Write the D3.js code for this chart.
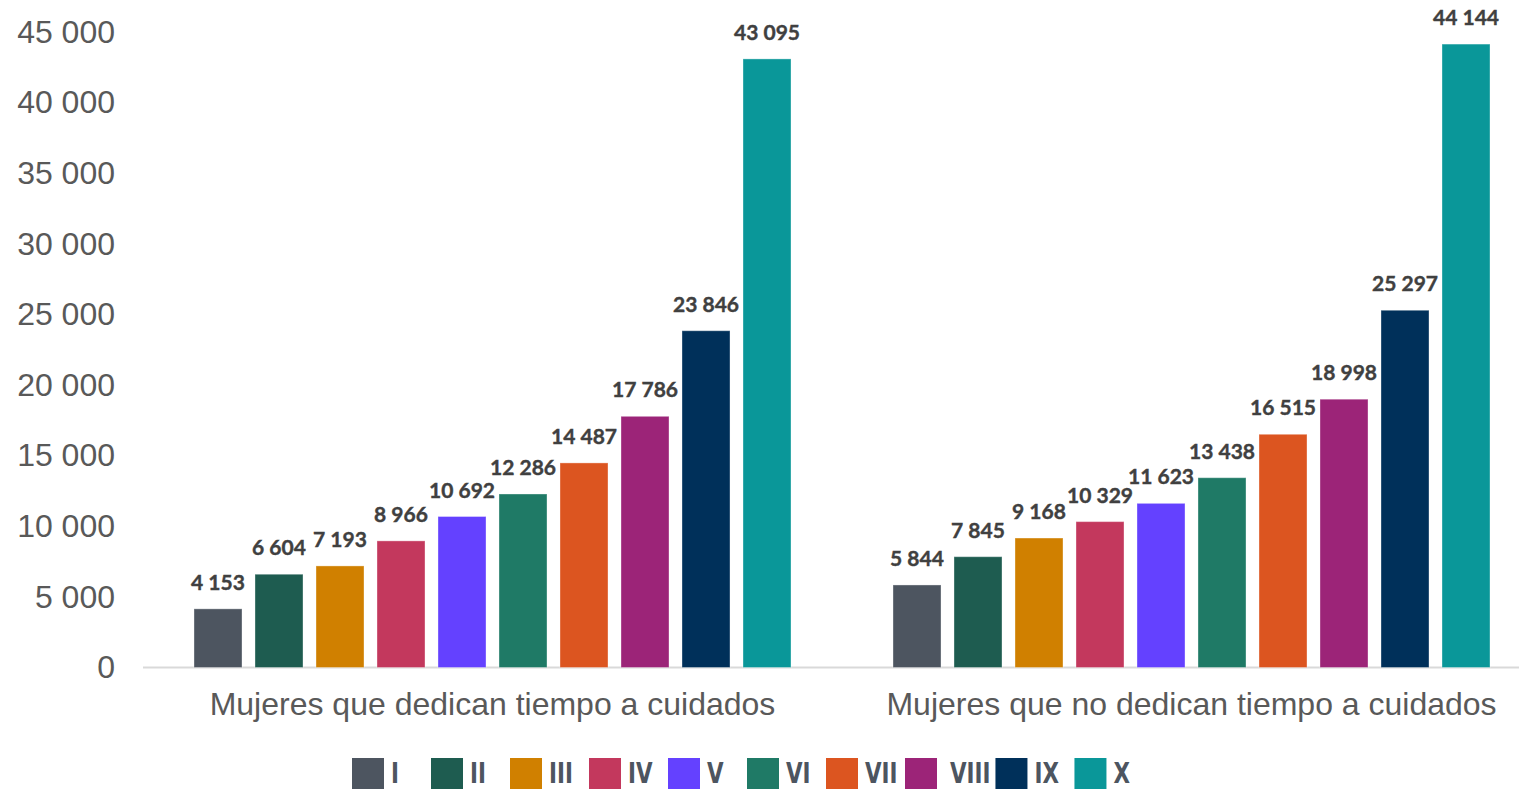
<!DOCTYPE html>
<html>
<head>
<meta charset="utf-8">
<script src="https://cdn.jsdelivr.net/npm/d3@7"></script>
<style>
  body { margin: 0; background: #fff; }
  svg { display: block; }
</style>
</head>
<body>
<div id="chart"></div>
<script>
// data
const groups = ['Mujeres que dedican tiempo a cuidados', 'Mujeres que no dedican tiempo a cuidados']
const deciles = ['I', 'II', 'III', 'IV', 'V', 'VI', 'VII', 'VIII', 'IX', 'X']
const conCuidados = [4153, 6604, 7193, 8966, 10692, 12286, 14487, 17786, 23846, 43095]
const sinCuidados = [5844, 7845, 9168, 10329, 11623, 13438, 16515, 18998, 25297, 44144]
const colors = ['#4d5560', '#1e5c50', '#d08000', '#c3385d', '#6441ff', '#1f7a66', '#dc5520', '#9c2478', '#00305a', '#0a9799']
const yTicks = [0, 5000, 10000, 15000, 20000, 25000, 30000, 35000, 40000, 45000]

const width = 1519,
  height = 789,
  plotLeft = 143,
  plotTop = 32,
  plotBottom = 667.5

const fmt = v => d3.format(',')(v).replace(/,/g, ' ')

let svg = d3.select('#chart')
  .append('svg')
  .attr('width', width)
  .attr('height', height)

let y = d3.scaleLinear()
  .domain([0, 45000])
  .range([plotBottom, plotTop])

let x0 = d3.scaleBand()
  .domain(groups)
  .range([plotLeft, plotLeft + 1398])

let x1 = d3.scaleBand()
  .domain(deciles)
  .range([0, x0.bandwidth()])
  .paddingInner(0.213)
  .paddingOuter(0.836)

let color = d3.scaleOrdinal().domain(deciles).range(colors)

// y axis labels
let yAxis = svg.append('g')
  .attr('transform', `translate(${plotLeft - 28},0)`)
  .call(d3.axisLeft(y).tickValues(yTicks).tickFormat(fmt).tickSize(0).tickPadding(0))
yAxis.select('.domain').remove()
yAxis.selectAll('text')
  .attr('font-family', 'Liberation Sans, Arial, sans-serif')
  .attr('font-size', 32)
  .attr('fill', '#595959')

// baseline
svg.append('line')
  .attr('x1', plotLeft)
  .attr('x2', width)
  .attr('y1', y(0))
  .attr('y2', y(0))
  .attr('stroke', '#d9d9d9')
  .attr('stroke-width', 2)

let series = [conCuidados, sinCuidados]
let rows = []
groups.forEach((g, gi) => {
  deciles.forEach((d, di) => {
    rows.push({ group: g, decile: d, value: series[gi][di] })
  })
})

svg.selectAll('rect.bar')
  .data(rows)
  .enter()
  .append('rect')
  .attr('class', 'bar')
  .attr('x', d => x0(d.group) + x1(d.decile))
  .attr('y', d => y(d.value))
  .attr('width', x1.bandwidth())
  .attr('height', d => y(0) - y(d.value))
  .attr('fill', d => color(d.decile))
  .attr('stroke', '#fff')
  .attr('stroke-opacity', 0.35)
  .attr('stroke-width', 1)

svg.selectAll('text.val')
  .data(rows)
  .enter()
  .append('text')
  .attr('class', 'val')
  .attr('x', d => x0(d.group) + x1(d.decile) + x1.bandwidth() / 2)
  .attr('y', d => y(d.value) - 19)
  .attr('text-anchor', 'middle')
  .attr('font-family', 'Lato, Carlito, sans-serif')
  .attr('font-weight', 700)
  .attr('font-size', 21)
  .attr('fill', '#404040')
  .attr('stroke', '#404040')
  .attr('stroke-width', 0.4)
  .text(d => fmt(d.value))

// category labels
let xAxis = svg.append('g')
  .attr('transform', `translate(0,${y(0)})`)
  .call(d3.axisBottom(x0).tickSize(0).tickPadding(0))
xAxis.select('.domain').remove()
xAxis.selectAll('text')
  .attr('dy', null)
  .attr('y', 47)
  .attr('font-family', 'Liberation Sans, Arial, sans-serif')
  .attr('font-size', 32)
  .attr('fill', '#595959')

// legend
let legend = svg.append('g')
let lx = 352
const sx = 0.85
deciles.forEach(d => {
  let item = legend.append('g').attr('transform', `translate(${lx},758)`)
  item.append('rect')
    .attr('width', 32)
    .attr('height', 31)
    .attr('fill', color(d))
  let t = item.append('text')
    .attr('y', 25)
    .attr('font-family', 'Liberation Sans Narrow, DejaVu Sans Condensed, Arial Narrow, sans-serif')
    .attr('font-weight', 700)
    .attr('font-size', 28)
    .attr('fill', '#4d5560')
    .text(d)
  let w = t.node().getComputedTextLength() * sx
  let tx = w > 36 ? 45 : 39
  t.attr('transform', `translate(${tx},0) scale(${sx},1)`)
  lx += Math.max(79, tx + w + 5)
})
</script>
</body>
</html>
